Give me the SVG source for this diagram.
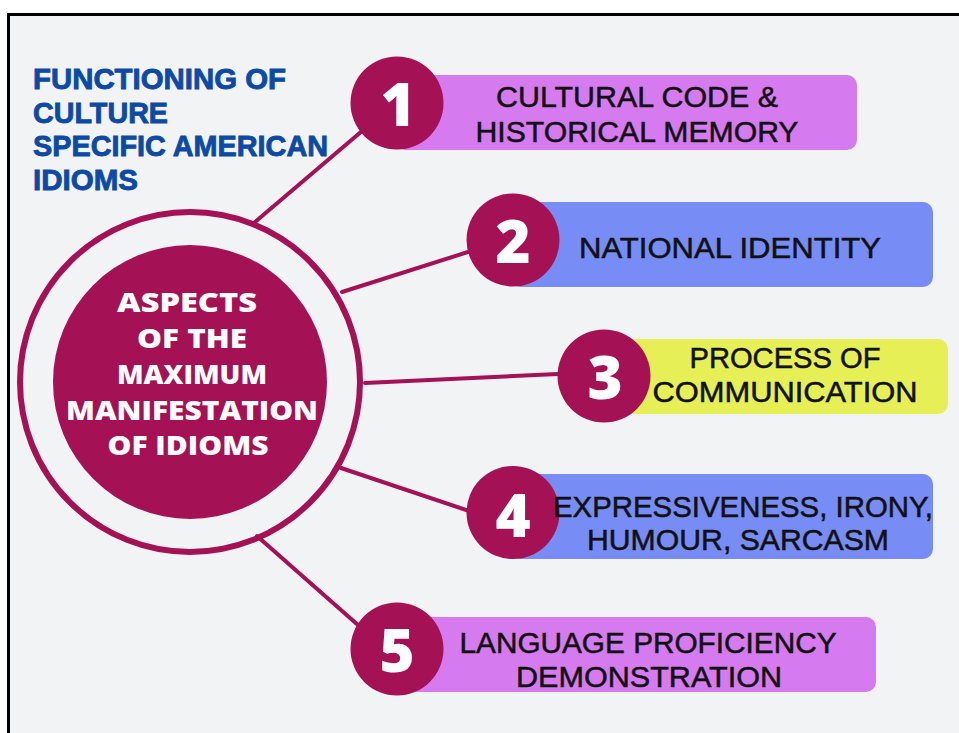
<svg xmlns="http://www.w3.org/2000/svg" width="959" height="733" viewBox="0 0 959 733">
  <style>
    .title { font-family: "Liberation Sans", "Arial", sans-serif; font-weight: 700; font-size: 30px; fill: #0c4aa6; stroke: #0c4aa6; stroke-width: 0.9; }
    .hub { font-family: "Open Sans", "Lato", "Liberation Sans", sans-serif; font-weight: 800; font-size: 27px; fill: #ffffff; text-anchor: middle; }
    .num { font-family: "Open Sans", "Liberation Sans", sans-serif; font-weight: 800; font-size: 60px; fill: #ffffff; text-anchor: middle; }
    .label { font-family: "Liberation Sans", "Arial", sans-serif; font-size: 29px; fill: #111111; stroke: #111111; stroke-width: 0.5; text-anchor: middle; }
    .badge { fill: #a51155; }
    .link { stroke: #a51155; stroke-width: 4; stroke-linecap: round; fill: none; }
    .pink { fill: #d67bef; }
    .blue { fill: #778cf4; }
    .yellow { fill: #e6f056; }
  </style>

  <!-- page -->
  <rect x="0" y="0" width="959" height="733" fill="#ffffff"/>
  <rect x="8.5" y="14.5" width="960" height="730" fill="#f2f3f5" stroke="#000000" stroke-width="3"/>

  <!-- heading -->
  <g id="heading">
    <text class="title" x="33" y="89" textLength="253" lengthAdjust="spacingAndGlyphs">FUNCTIONING OF</text>
    <text class="title" x="33" y="123" textLength="135" lengthAdjust="spacingAndGlyphs">CULTURE</text>
    <text class="title" x="33" y="156" textLength="295" lengthAdjust="spacingAndGlyphs">SPECIFIC AMERICAN</text>
    <text class="title" x="33" y="190" textLength="105" lengthAdjust="spacingAndGlyphs">IDIOMS</text>
  </g>

  <!-- connectors -->
  <g id="connectors">
    <line class="link" x1="255" y1="222" x2="375" y2="120"/>
    <line class="link" x1="342" y1="292" x2="490" y2="245"/>
    <line class="link" x1="365" y1="383" x2="580" y2="373"/>
    <line class="link" x1="341" y1="468" x2="490" y2="518"/>
    <line class="link" x1="257" y1="536" x2="375" y2="640"/>
  </g>

  <!-- central hub -->
  <g id="hub">
    <circle cx="190" cy="382" r="170" fill="none" stroke="#a51155" stroke-width="6"/>
    <circle cx="190" cy="382" r="137" class="badge"/>
    <text class="hub" x="187" y="312" textLength="140" lengthAdjust="spacingAndGlyphs">ASPECTS</text>
    <text class="hub" x="192" y="348" textLength="110" lengthAdjust="spacingAndGlyphs">OF THE</text>
    <text class="hub" x="192" y="384" textLength="150" lengthAdjust="spacingAndGlyphs">MAXIMUM</text>
    <text class="hub" x="192" y="420" textLength="252" lengthAdjust="spacingAndGlyphs">MANIFESTATION</text>
    <text class="hub" x="188" y="455" textLength="161" lengthAdjust="spacingAndGlyphs">OF IDIOMS</text>
  </g>

  <!-- item 1 -->
  <g id="item1">
    <rect class="pink" x="395" y="75" width="462" height="75" rx="10"/>
    <circle class="badge" cx="397" cy="103" r="46.5"/>
    <text class="num" x="398" y="126">1</text>
    <text class="label" x="637" y="107" textLength="282" lengthAdjust="spacingAndGlyphs">CULTURAL CODE &amp;</text>
    <text class="label" x="637" y="142" textLength="323" lengthAdjust="spacingAndGlyphs">HISTORICAL MEMORY</text>
  </g>

  <!-- item 2 -->
  <g id="item2">
    <rect class="blue" x="510" y="202" width="423" height="85" rx="10"/>
    <circle class="badge" cx="513" cy="240" r="46.5"/>
    <text class="num" x="513" y="263">2</text>
    <text class="label" x="730" y="258" textLength="302" lengthAdjust="spacingAndGlyphs">NATIONAL IDENTITY</text>
  </g>

  <!-- item 3 -->
  <g id="item3">
    <rect class="yellow" x="600" y="339" width="348" height="75" rx="10"/>
    <circle class="badge" cx="604" cy="376" r="46.5"/>
    <text class="num" x="605" y="399">3</text>
    <text class="label" x="785" y="368" textLength="191" lengthAdjust="spacingAndGlyphs">PROCESS OF</text>
    <text class="label" x="785" y="402" textLength="265" lengthAdjust="spacingAndGlyphs">COMMUNICATION</text>
  </g>

  <!-- item 4 -->
  <g id="item4">
    <rect class="blue" x="510" y="474" width="423" height="85" rx="10"/>
    <circle class="badge" cx="513" cy="512.5" r="46.5"/>
    <text class="num" x="513" y="537">4</text>
    <text class="label" x="743" y="517" textLength="380" lengthAdjust="spacingAndGlyphs">EXPRESSIVENESS, IRONY,</text>
    <text class="label" x="738" y="550" textLength="302" lengthAdjust="spacingAndGlyphs">HUMOUR, SARCASM</text>
  </g>

  <!-- item 5 -->
  <g id="item5">
    <rect class="pink" x="395" y="617" width="481" height="75" rx="10"/>
    <circle class="badge" cx="397" cy="649" r="46.5"/>
    <text class="num" x="397" y="672">5</text>
    <text class="label" x="648" y="653" textLength="377" lengthAdjust="spacingAndGlyphs">LANGUAGE PROFICIENCY</text>
    <text class="label" x="649" y="687" textLength="266" lengthAdjust="spacingAndGlyphs">DEMONSTRATION</text>
  </g>
</svg>
